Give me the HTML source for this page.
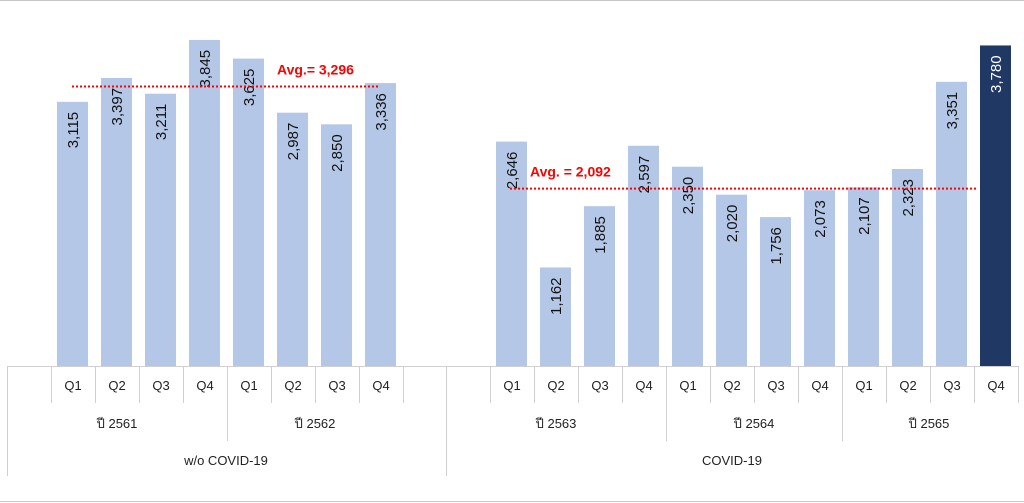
<!DOCTYPE html>
<html><head><meta charset="utf-8"><style>
html,body{margin:0;padding:0;background:#fff;}
svg{display:block;font-family:"Liberation Sans",Arial,sans-serif;}
</style></head><body>
<svg id="chart" width="1024" height="503" viewBox="0 0 1024 503">
<line x1="0" y1="0.5" x2="1024" y2="0.5" stroke="#c8c8c8"/>
<line x1="0" y1="501.5" x2="1024" y2="501.5" stroke="#c8c8c8"/>
<g id="bars"></g>
<g id="table"></g>
<g id="avg"></g>
</svg>
<script>
const leftQuarters = ["Q1","Q2","Q3","Q4","Q1","Q2","Q3","Q4"];
const leftValues = [3115,3397,3211,3845,3625,2987,2850,3336];
const rightQuarters = ["Q1","Q2","Q3","Q4","Q1","Q2","Q3","Q4","Q1","Q2","Q3","Q4"];
const rightValues = [2646,1162,1885,2597,2350,2020,1756,2073,2107,2323,3351,3780];
const leftYears = ["ปี 2561","ปี 2562"];
const rightYears = ["ปี 2563","ปี 2564","ปี 2565"];
const groups = ["w/o COVID-19","COVID-19"];
const leftAvg = 3296;
const rightAvg = 2092;

const NS="http://www.w3.org/2000/svg";
const base=366, scale=0.0848, step=44;
const leftStart=51, rightStart=490;
function y(v){return base - v*scale;}
function xL(i){return leftStart + i*step;}
function xR(i){return rightStart + i*step;}
function mk(tag,attrs,parent,text){const e=document.createElementNS(NS,tag);for(const k in attrs)e.setAttribute(k,attrs[k]);if(text!==undefined)e.textContent=text;parent.appendChild(e);return e;}
function fmt(v){return v.toLocaleString("en-US");}
const bars=document.getElementById("bars");
function drawBars(vals,xf,prefix,darkLast){
  vals.forEach((v,i)=>{
    const x=xf(i)+6, top=y(v);
    const dark=darkLast&&i===vals.length-1;
    const r=mk("rect",{x:x,y:top,width:31,height:base-top,fill:dark?"#1f3864":"#b4c7e7"},bars);
    
    
    const cx=x+15.5+5.5, ty=top+10;
    const t=mk("text",{x:0,y:0,"font-size":"15","text-anchor":"end",fill:dark?"#fff":"#111",transform:`translate(${cx},${ty}) rotate(-90)`},bars,fmt(v));
    
    
  });
}
drawBars(leftValues,xL,"left",false);
drawBars(rightValues,xR,"right",true);

const tb=document.getElementById("table");
function vline(x,y1,y2,name){const l=mk("line",{x1:x+0.5,y1:y1,x2:x+0.5,y2:y2,stroke:"#d0d0d0"},tb);}
function label(x,yy,s,name){const t=mk("text",{x:x,y:yy,"font-size":"13","text-anchor":"middle",fill:"#222"},tb,s);}
const hl=mk("line",{x1:7,y1:366.5,x2:1018,y2:366.5,stroke:"#d0d0d0"},tb);


vline(7,366,476,"group-divider-left");
vline(446,366,476,"group-divider-mid");
for(let i=0;i<=leftQuarters.length;i++){ vline(xL(i),366,i===4?441:403,"quarter-divider"); }
for(let i=0;i<=rightQuarters.length;i++){ vline(xR(i),366,(i===4||i===8)?441:403,"quarter-divider"); }
leftQuarters.forEach((q,i)=>label(xL(i)+22,390,q,"quarter-label"));
rightQuarters.forEach((q,i)=>label(xR(i)+22,390,q,"quarter-label"));
leftYears.forEach((s,i)=>label(i===0?117:315,428,s,"year-label"));
rightYears.forEach((s,i)=>label([556,754,929][i],428,s,"year-label"));
label(226,465,groups[0],"group-label");
label(732,465,groups[1],"group-label");

const av=document.getElementById("avg");
function avgLine(v,x1,x2,lx,txt,name){
  const yy=y(v);
  const l=mk("line",{x1:x1,y1:yy,x2:x2,y2:yy,stroke:"#ff0000","stroke-width":"2","stroke-dasharray":"2,2"},av);
  
  
  const t=mk("text",{x:lx,y:yy-12,"font-size":"14","font-weight":"bold",fill:"#ff0000"},av,txt);
  
  
}
avgLine(leftAvg,72,378,277,"Avg.= "+fmt(leftAvg),"left-average");
avgLine(rightAvg,510,978,530,"Avg. = "+fmt(rightAvg),"right-average");
</script>
</body></html>
